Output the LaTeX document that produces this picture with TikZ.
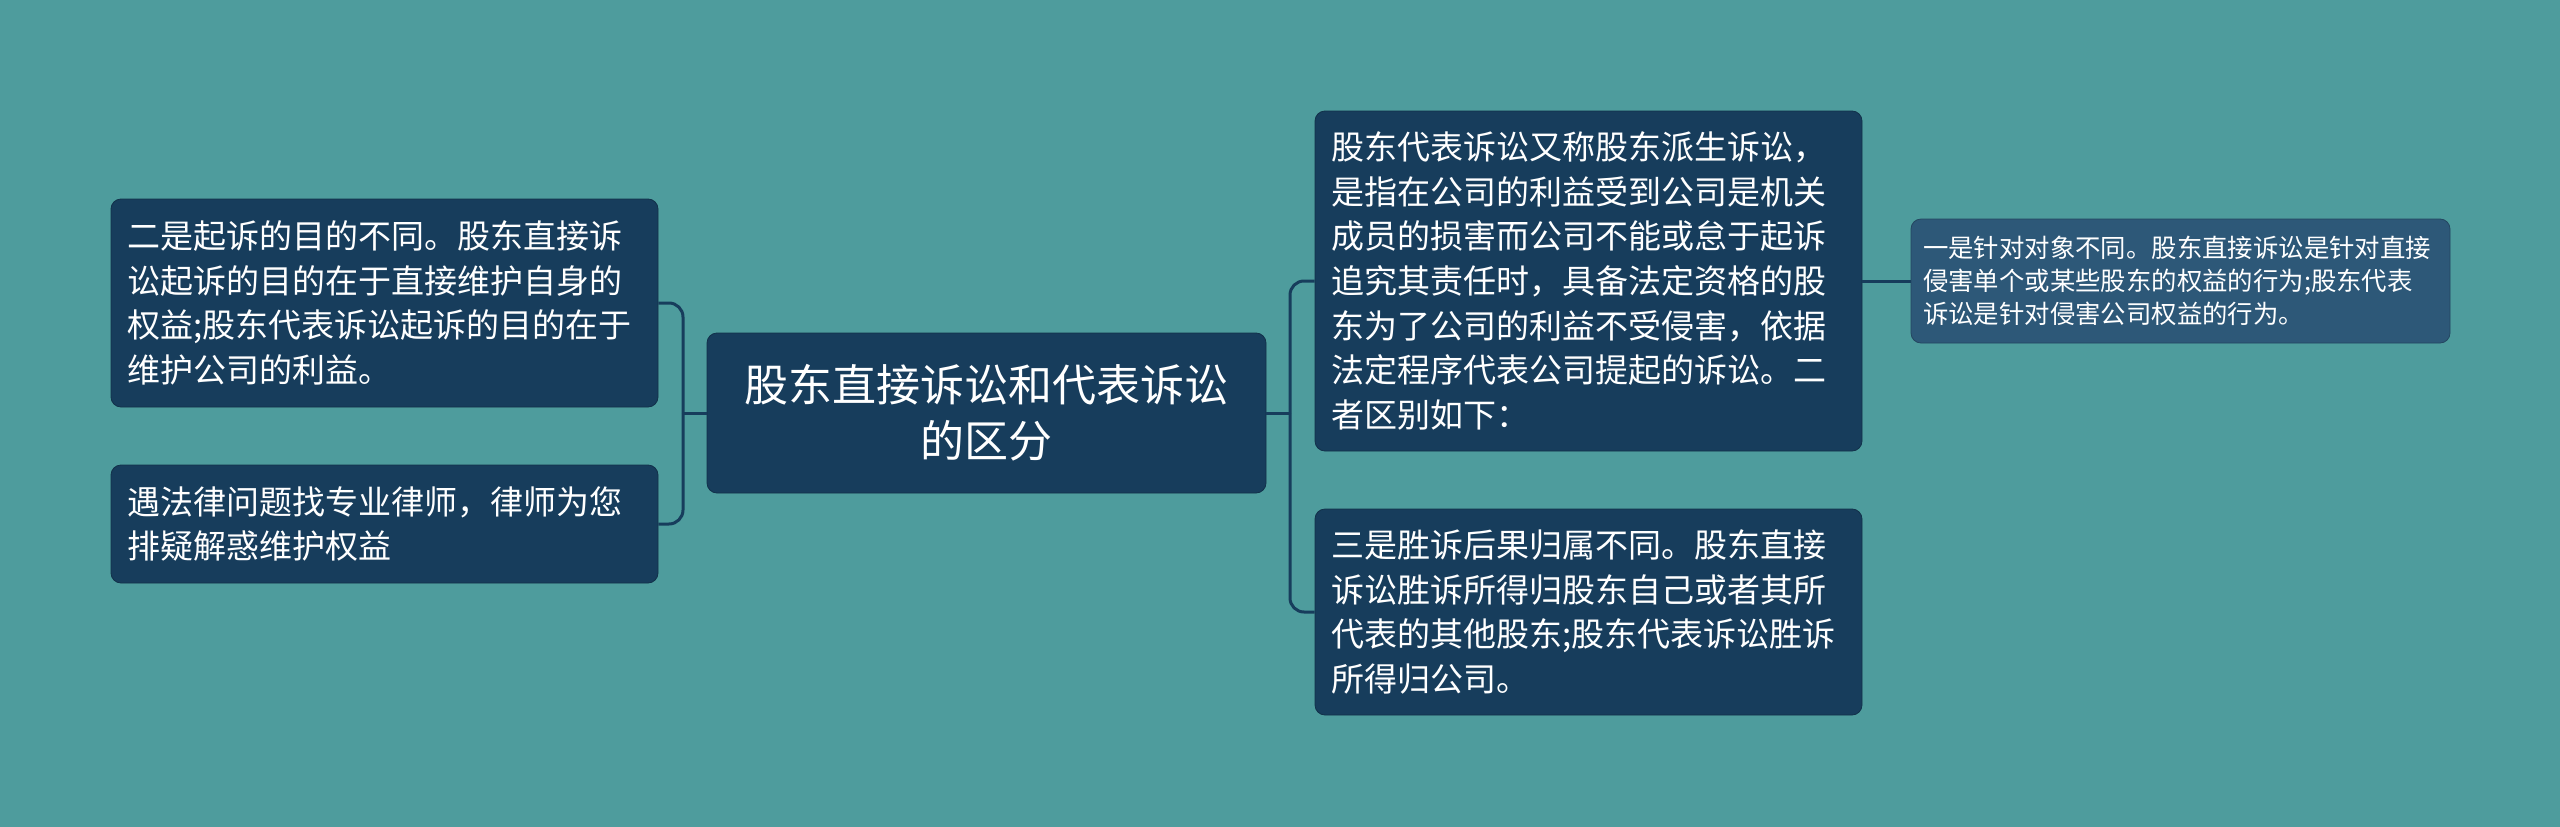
\documentclass[tikz,border=0pt]{standalone}
\usepackage{fontspec}
\setmainfont{Noto Sans CJK SC}
\definecolor{bg}{HTML}{4E9C9D}
\definecolor{nodefill}{HTML}{173D5C}
\definecolor{leaffill}{HTML}{2D5878}
\definecolor{conncol}{HTML}{173D5C}
\tikzset{
  box/.style={draw=nodefill!80!black, line width=0.8pt, fill=nodefill, rounded corners=10pt, text=white, align=left, inner ysep=0pt},
  mainbox/.style={box, align=center, font=\fontsize{44}{56}\selectfont},
  subbox/.style={box, inner xsep=16pt, font=\fontsize{33}{44.6}\selectfont},
  leafbox/.style={box, fill=leaffill, draw=leaffill!80!black, inner xsep=12pt, font=\fontsize{25.4}{33}\selectfont},
  conn/.style={draw=conncol, line width=3pt, rounded corners=14pt}
}
\begin{document}
\begin{tikzpicture}[x=1pt,y=1pt]
\fill[bg] (0,0) rectangle (2560,-827);
\useasboundingbox (0,0) rectangle (2560,-827);

\node[mainbox, minimum width=559pt, minimum height=160pt, text width=510pt] (c) at (986.5,-413) {股东直接诉讼和代表诉讼\\的区分};

\node[subbox, minimum width=547pt, minimum height=208pt, text width=515pt] (l1) at (384.5,-303) {二是起诉的目的不同。股东直接诉\\讼起诉的目的在于直接维护自身的\\权益;股东代表诉讼起诉的目的在于\\维护公司的利益。};

\node[subbox, minimum width=547pt, minimum height=118pt, text width=515pt] (l2) at (384.5,-524) {遇法律问题找专业律师，律师为您\\排疑解惑维护权益};

\node[subbox, minimum width=547pt, minimum height=340pt, text width=515pt] (r1) at (1588.5,-281) {股东代表诉讼又称股东派生诉讼，\\是指在公司的利益受到公司是机关\\成员的损害而公司不能或怠于起诉\\追究其责任时，具备法定资格的股\\东为了公司的利益不受侵害，依据\\法定程序代表公司提起的诉讼。二\\者区别如下：};

\node[subbox, minimum width=547pt, minimum height=206pt, text width=515pt] (r2) at (1588.5,-612) {三是胜诉后果归属不同。股东直接\\诉讼胜诉所得归股东自己或者其所\\代表的其他股东;股东代表诉讼胜诉\\所得归公司。};

\node[leafbox, minimum width=539pt, minimum height=124pt, text width=515pt] (r3) at (2180.5,-281) {一是针对对象不同。股东直接诉讼是针对直接\\侵害单个或某些股东的权益的行为;股东代表\\诉讼是针对侵害公司权益的行为。};

\coordinate (jl) at (683,-413);
\coordinate (jr) at (1290,-413);

\draw[conn] (c.west) -- (jl);
\draw[conn] (jl) |- (l1.east);
\draw[conn] (jl) |- (l2.east);
\draw[conn] (c.east) -- (jr);
\draw[conn] (jr) |- (r1.west);
\draw[conn] (jr) |- (r2.west);
\draw[conn] (r1.east) -- (r3.west);
\end{tikzpicture}
\end{document}
